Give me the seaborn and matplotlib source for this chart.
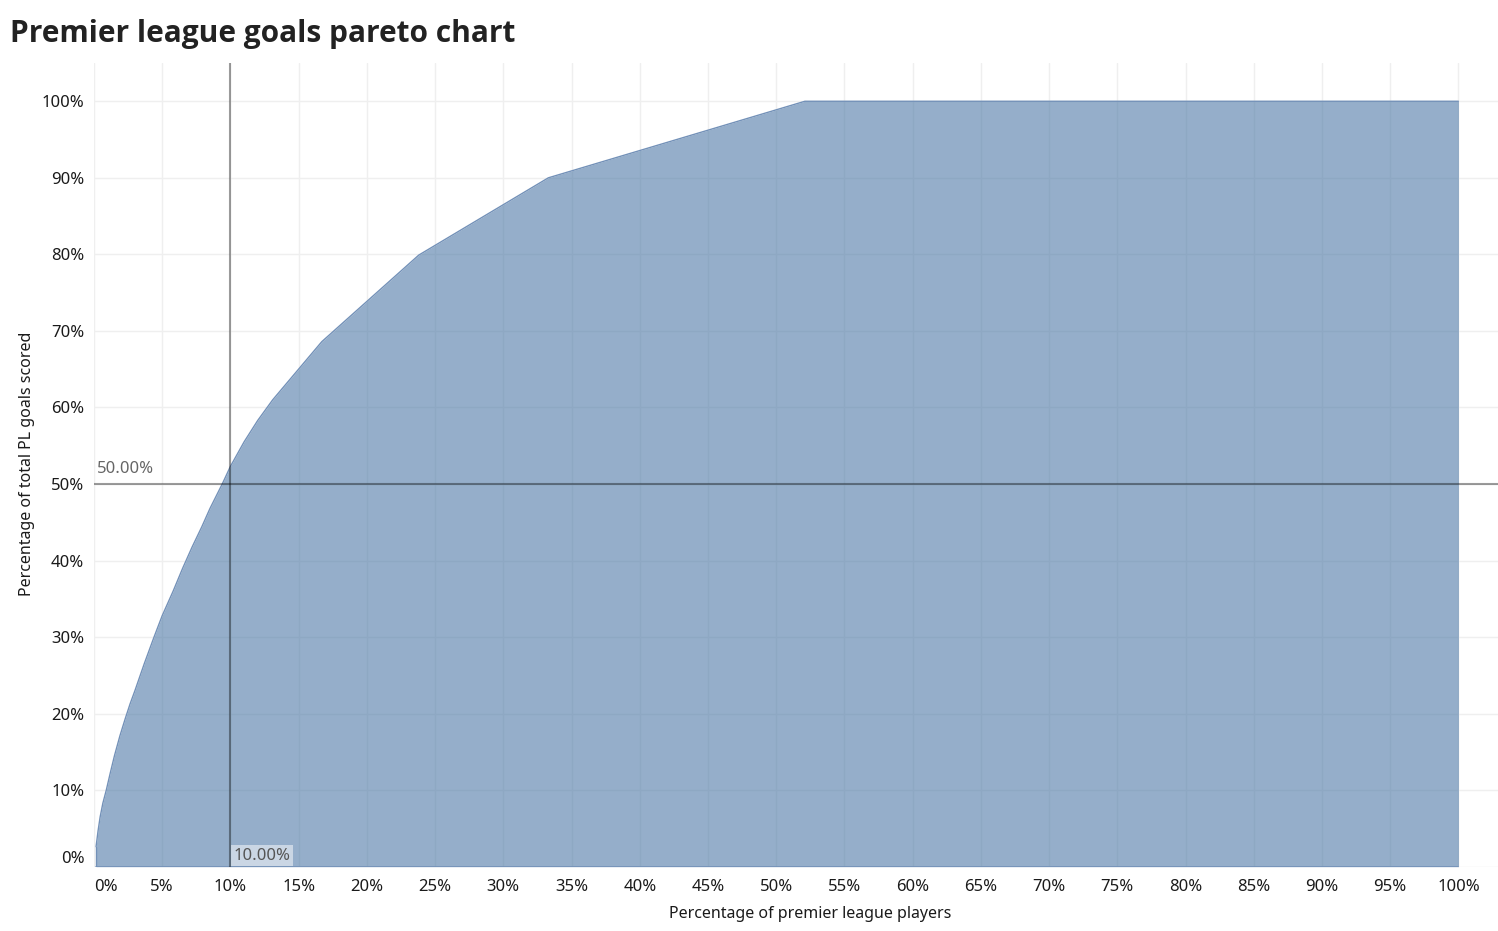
import matplotlib.pyplot as plt
import seaborn as sns
import pandas as pd

# cumulative share of players (x) vs cumulative share of goals (y), in %
player_pct = [0.15, 0.3, 0.45, 0.65, 0.9, 1.2, 1.5, 1.9, 2.3, 2.65, 3.0, 3.35, 3.7, 4.05, 4.4,
              5.0, 5.8, 6.5, 7.2, 7.9, 8.5, 9.4, 10.0, 11.0, 12.0, 13.1, 16.7, 23.8, 33.3, 52.1, 100.0]
goals_pct = [2.6, 4.7, 6.5, 8.3, 10.0, 12.3, 14.5, 17.1, 19.4, 21.3, 23.0, 24.8, 26.6, 28.3, 30.0,
             32.8, 36.0, 39.0, 41.8, 44.4, 46.8, 50.0, 52.3, 55.5, 58.3, 61.0, 68.6, 79.9, 90.0, 100.0, 100.0]
ref_x = 10.0
ref_y = 50.0
x_ticks = list(range(0, 101, 5))
y_ticks = list(range(0, 101, 10))

pareto = pd.DataFrame({'Players': player_pct, 'Goals': goals_pct})

sns.set_theme(style="white")
plt.rcParams['font.family'] = ['Noto Sans', 'DejaVu Sans']

fig = plt.figure(figsize=(14.98, 9.31), dpi=100)
ax = fig.add_axes([94 / 1498, 1 - 866.7 / 931, 1 - 94 / 1498, (866.7 - 63) / 931])

for t in x_ticks:
    ax.axvline(t, color='#efefef', lw=1, zorder=0)
for t in y_ticks:
    ax.axhline(t, color='#efefef', lw=1, zorder=0)

edge = '#7391b8'
ax.fill_between(pareto['Players'], pareto['Goals'], 0, color='#4e79a7', alpha=0.6, lw=0, zorder=1)
sns.lineplot(data=pareto, x='Players', y='Goals', color=edge, lw=1, ax=ax, zorder=2)
ax.plot([pareto['Players'].iloc[0], pareto['Players'].iloc[0]], [0, pareto['Goals'].iloc[0]],
        color=edge, lw=1, zorder=2)
ax.plot([pareto['Players'].iloc[0], pareto['Players'].iloc[-1]], [0, 0], color=edge, lw=1.2, zorder=2)

ax.axvline(ref_x, color='black', alpha=0.38, lw=1.5, zorder=3)
ax.axhline(ref_y, color='black', alpha=0.38, lw=1.5, zorder=3)
ax.text(0.2, ref_y + 0.9, f"{ref_y:.2f}%", color='#666666', fontsize=12, ha='left', va='bottom', zorder=4)
ax.text(ref_x + 0.25, 0.4, f"{ref_x:.2f}%", color='#555555', fontsize=12, ha='left', va='bottom', zorder=4,
        bbox=dict(facecolor='white', alpha=0.5, edgecolor='none', pad=1.8))

ax.set_xlim(0, 102.9)
ax.set_ylim(0, 105)
ax.set_xticks(x_ticks)
ax.set_yticks(y_ticks)
ax.set_xticklabels([f"{t}%" for t in x_ticks], fontsize=12, color='#1a1a1a')
ax.set_yticklabels([f"{t}%" for t in y_ticks], fontsize=12, color='#1a1a1a')
ax.get_xticklabels()[0].set_ha('left')
ax.get_yticklabels()[0].set_va('bottom')
ax.tick_params(axis='x', length=0, pad=9)
ax.tick_params(axis='y', length=0, pad=7)
for s in ax.spines.values():
    s.set_visible(False)

ax.set_xlabel("Percentage of premier league players", fontsize=11.5, color='#1a1a1a')
ax.set_ylabel("Percentage of total PL goals scored", fontsize=11.5, color='#1a1a1a')
ax.xaxis.set_label_coords((810 - 94) / 1404, -(914 - 866.7) / 803.7)
ax.yaxis.set_label_coords(-(94 - 27) / 1404, (866.7 - 464) / 803.7)
ax.xaxis.label.set_va('center')
ax.yaxis.label.set_va('center')

fig.text(10 / 1498, 1 - 34 / 931, "Premier league goals pareto chart", fontsize=21.5, fontweight='bold',
         color='#222222', ha='left', va='center', family=['Open Sans', 'DejaVu Sans'])

plt.savefig("out.png", dpi=100)
